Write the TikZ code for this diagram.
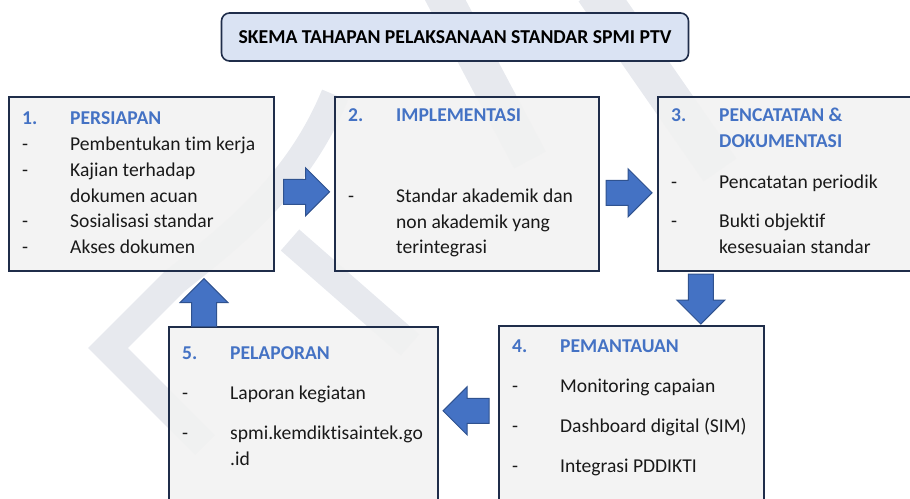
\documentclass[tikz,border=0pt]{standalone}
\usepackage{fontspec}
\setmainfont{Carlito}[Ligatures=NoCommon]
\usetikzlibrary{calc,shapes.arrows}

\definecolor{kotak}{HTML}{F2F2F2}
\definecolor{garis}{HTML}{1F2D4A}
\definecolor{judulbg}{HTML}{DAE3F3}
\definecolor{biru}{HTML}{4472C4}
\definecolor{birutua}{HTML}{2F528F}
\definecolor{tanda}{HTML}{E7E9EE}

\newcommand{\kepala}[1]{\textcolor{biru}{\bfseries #1}}

\tikzset{
  tahap/.style={draw=garis, line width=1.6pt, fill=kotak, fill opacity=0.9,
    minimum width=265pt, minimum height=200pt, inner sep=0pt, anchor=north west},
  isi/.style={anchor=north west, inner sep=0pt, text=black!90,
    font=\fontsize{19.6}{25.8}\selectfont},
  panah/.style={single arrow, draw=birutua, line width=1pt, fill=biru,
    inner sep=0pt, text height=12pt, text depth=12pt,
    single arrow head extend=11.5pt, minimum height=46pt},
  watermark/.style={draw=tanda, line width=28pt}
}

\begin{document}
\begin{tikzpicture}[x=1pt,y=-1pt]
\useasboundingbox (0,0) rectangle (910,498);
\clip (0,0) rectangle (910,498);

% Watermark behind everything
\draw[watermark, line join=miter] (205,445) -- (108,348) -- (175,281)
  .. controls (240,230) and (300,180) .. (335,95);
\draw[watermark] (290,240) -- (410,345);
\draw[watermark, line width=36pt] (440,-10) -- (530,160);
\draw[watermark, line width=40pt] (595,-10) -- (720,170);

% Title
\node[draw=garis, line width=1.6pt, fill=judulbg, rounded corners=8pt,
  minimum width=467pt, minimum height=48pt,
  font=\fontsize{19.7}{22}\selectfont\bfseries] (judul) at (455,37)
  {SKEMA TAHAPAN PELAKSANAAN STANDAR SPMI PTV};

% First row - boxes 1 to 3
\node[tahap, minimum height=174pt] (persiapan) at (8,96) {};
\node[tahap, minimum height=174pt, minimum width=264pt] (implementasi) at (334,96) {};
\node[tahap, minimum height=174pt] (pencatatan) at (657,96) {};

% Second row - boxes 5 and 4
\node[tahap, minimum width=269pt] (pelaporan) at (168,326) {};
\node[tahap] (pemantauan) at (498,325) {};

% Box texts
\node[isi] (isi1) at ($(persiapan.north west)+(14,10.5)$) {%
  \begin{tabular}{@{}p{48pt}@{}l@{}}
  \kepala{1.} & \kepala{PERSIAPAN}\\
  - & Pembentukan tim kerja\\
  - & Kajian terhadap\\
    & dokumen acuan\\
  - & Sosialisasi standar\\
  - & Akses dokumen
  \end{tabular}};
\node[isi] (isi2) at ($(implementasi.north west)+(14,7.6)$) {%
  \begin{tabular}{@{}p{48pt}@{}l@{}}
  \kepala{2.} & \kepala{IMPLEMENTASI}\\[54.6pt]
  - & Standar akademik dan\\
    & non akademik yang\\
    & terintegrasi
  \end{tabular}};
\node[isi] (isi3) at ($(pencatatan.north west)+(14,7.6)$) {%
  \begin{tabular}{@{}p{48pt}@{}l@{}}
  \kepala{3.} & \kepala{PENCATATAN \&}\\
    & \kepala{DOKUMENTASI}\\[15.2pt]
  - & Pencatatan periodik\\[13.2pt]
  - & Bukti objektif\\
    & kesesuaian standar
  \end{tabular}};
\node[isi] (isi4) at ($(pemantauan.north west)+(14,9.6)$) {%
  \begin{tabular}{@{}p{48pt}@{}l@{}}
  \kepala{4.} & \kepala{PEMANTAUAN}\\[14.2pt]
  - & Monitoring capaian\\[14.2pt]
  - & Dashboard digital (SIM)\\[14.2pt]
  - & Integrasi PDDIKTI
  \end{tabular}};
\node[isi] (isi5) at ($(pelaporan.north west)+(14,15.4)$) {%
  \begin{tabular}{@{}p{48pt}@{}l@{}}
  \kepala{5.} & \kepala{PELAPORAN}\\[14.2pt]
  - & Laporan kegiatan\\[14.2pt]
  - & spmi.kemdiktisaintek.go\\
    & .id
  \end{tabular}};

% Block arrows between the stages
\node[panah] (p12) at ($(persiapan.east)!0.5!(implementasi.west)+(-4,8)$) {};
\node[panah] (p23) at ($(implementasi.east)!0.5!(pencatatan.west)+(-5.5,9)$) {};
\node[panah, rotate=-90, minimum height=50pt] (p34)
  at ($(pencatatan.south west)!0.5!(pemantauan.north east)+(-10,-5.5)$) {};
\node[panah, rotate=180] (p45)
  at ($(pelaporan.east)!0.5!(pemantauan.west)+(4,-15.5)$) {};
\node[panah, rotate=90, minimum height=48pt] (p51)
  at ($(persiapan.south west)!0.5!(pelaporan.north west)+(116,10)$) {};

\end{tikzpicture}
\end{document}
